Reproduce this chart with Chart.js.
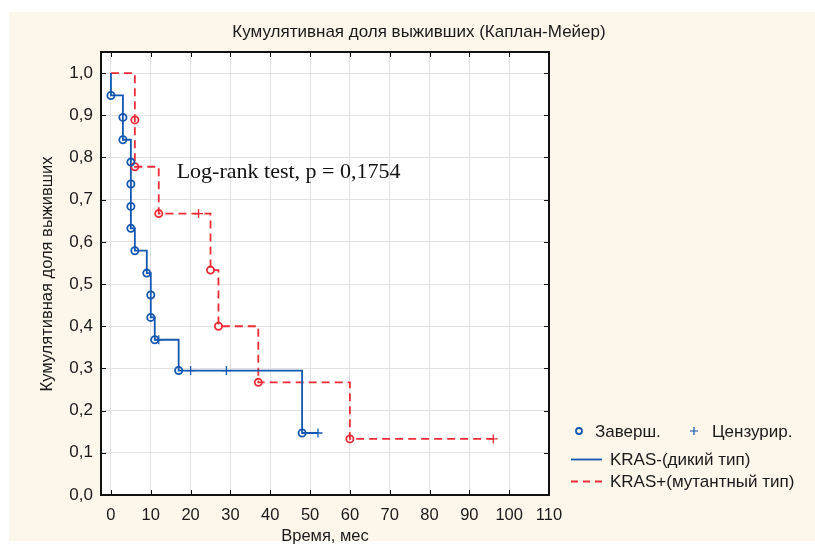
<!DOCTYPE html>
<html>
<head>
<meta charset="utf-8">
<script src="https://cdn.jsdelivr.net/npm/chart.js@4.4.1/dist/chart.umd.min.js"></script>
<style>
html,body{margin:0;padding:0;background:#fff;}
#wrap{position:relative;width:815px;height:545px;overflow:hidden;}
#bg{position:absolute;left:9px;top:12px;width:806px;height:529px;background:#fdf6ea;}
#c{position:absolute;left:0;top:0;}
</style>
</head>
<body>
<div id="wrap"><div id="bg"></div><canvas id="c" width="815" height="545"></canvas></div>
<script>
// ── DATA ──
// KRAS- (wild type): step curve
const blueStepT = [0, 0, 3, 3, 5, 5, 5, 5, 6, 9, 10, 10, 11, 17, 48, 52];
const blueStepS = [1.0, 0.947, 0.895, 0.842, 0.789, 0.737, 0.684, 0.632, 0.579, 0.526, 0.474, 0.421, 0.368, 0.295, 0.147, 0.147];
const blueEventT = [0, 3, 3, 5, 5, 5, 5, 6, 9, 10, 10, 11, 17, 48];
const blueEventS = [0.947, 0.895, 0.842, 0.789, 0.737, 0.684, 0.632, 0.579, 0.526, 0.474, 0.421, 0.368, 0.295, 0.147];
const blueCensT = [12, 20, 29, 52];
const blueCensS = [0.368, 0.295, 0.295, 0.147];

// KRAS+ (mutant): step curve
const redStepT = [0, 6, 6, 12, 25, 27, 37, 60, 96];
const redStepS = [1.0, 0.889, 0.778, 0.667, 0.533, 0.4, 0.267, 0.133, 0.133];
const redEventT = [6, 6, 12, 25, 27, 37, 60];
const redEventS = [0.889, 0.778, 0.667, 0.533, 0.4, 0.267, 0.133];
const redCensT = [22, 96];
const redCensS = [0.667, 0.133];

const xTicks = [0, 10, 20, 30, 40, 50, 60, 70, 80, 90, 100, 110];
const yTicks = [0, 0.1, 0.2, 0.3, 0.4, 0.5, 0.6, 0.7, 0.8, 0.9, 1.0];

const titleText = 'Кумулятивная доля выживших (Каплан-Мейер)';
const xTitle = 'Время, мес';
const yTitle = 'Кумулятивная доля выживших';
const noteText = 'Log-rank test, p = 0,1754';
const legEvent = 'Заверш.', legCens = 'Цензурир.';
const legBlue = 'KRAS-(дикий тип)', legRed = 'KRAS+(мутантный тип)';

const BLUE = '#1457b0', RED = '#ee2b36';
const FONT = '"Liberation Sans", Arial, sans-serif';

const pts = (t, s) => t.map((v, i) => ({x: v, y: s[i]}));

// ── PLUGINS ──
const plotBg = {
  id: 'plotBg',
  beforeDraw(chart){
    const {ctx, chartArea:a} = chart;
    ctx.save();
    ctx.fillStyle = '#fff';
    ctx.fillRect(a.left, a.top, a.right - a.left, a.bottom - a.top);
    ctx.restore();
  }
};

const frame = {
  id: 'frame',
  afterDatasetsDraw(chart){
    const {ctx, chartArea:a, scales} = chart;
    ctx.save();
    ctx.strokeStyle = '#111';
    ctx.lineWidth = 1;
    ctx.beginPath();
    xTicks.forEach(v => {
      const px = Math.round(scales.x.getPixelForValue(v)) + 0.5;
      ctx.moveTo(px, a.bottom); ctx.lineTo(px, a.bottom - 5);
      ctx.moveTo(px, a.top); ctx.lineTo(px, a.top + 5);
    });
    yTicks.forEach(v => {
      const py = Math.round(scales.y.getPixelForValue(v)) + 0.5;
      ctx.moveTo(a.left, py); ctx.lineTo(a.left + 5, py);
      ctx.moveTo(a.right, py); ctx.lineTo(a.right - 5, py);
    });
    ctx.stroke();
    ctx.lineWidth = 2;
    ctx.strokeRect(a.left, a.top, a.right - a.left, a.bottom - a.top);

    // log-rank note
    ctx.fillStyle = '#111';
    ctx.font = '22px "Liberation Serif", "Times New Roman", serif';
    ctx.textBaseline = 'middle';
    ctx.textAlign = 'left';
    ctx.fillText(noteText, scales.x.getPixelForValue(16.5), scales.y.getPixelForValue(0.765));
    ctx.restore();
  },
  afterDraw(chart){
    const {ctx} = chart;
    ctx.save();
    ctx.fillStyle = '#1a1a1a';
    ctx.textBaseline = 'middle';
    // title
    ctx.font = '17px ' + FONT;
    ctx.textAlign = 'center';
    ctx.fillText(titleText, 419, 32);
    // axis titles
    ctx.font = '16.5px ' + FONT;
    ctx.fillText(xTitle, 325, 536);
    ctx.save();
    ctx.translate(47, 274);
    ctx.rotate(-Math.PI / 2);
    ctx.fillText(yTitle, 0, 0);
    ctx.restore();

    // legend
    ctx.font = '17px ' + FONT;
    ctx.textAlign = 'left';
    ctx.strokeStyle = BLUE;
    ctx.lineWidth = 1.8;
    ctx.beginPath(); ctx.arc(579, 431, 3, 0, Math.PI * 2); ctx.stroke();
    ctx.lineWidth = 1.2;
    ctx.beginPath();
    ctx.moveTo(690, 431); ctx.lineTo(698, 431);
    ctx.moveTo(694, 427); ctx.lineTo(694, 435);
    ctx.stroke();
    ctx.fillText(legEvent, 595, 432);
    ctx.fillText(legCens, 712, 432);

    ctx.lineWidth = 1.8;
    ctx.beginPath(); ctx.moveTo(571, 459.5); ctx.lineTo(602, 459.5); ctx.stroke();
    ctx.fillText(legBlue, 610, 460);

    ctx.strokeStyle = RED;
    ctx.setLineDash([7, 5]);
    ctx.beginPath(); ctx.moveTo(571, 481.5); ctx.lineTo(602, 481.5); ctx.stroke();
    ctx.setLineDash([]);
    ctx.fillText(legRed, 610, 482);
    ctx.restore();
  }
};

// ── CHART ──
new Chart(document.getElementById('c'), {
  type: 'scatter',
  data: {
    datasets: [
      {data: pts(blueStepT, blueStepS), showLine: true, stepped: 'before', borderColor: BLUE, borderWidth: 1.8, pointRadius: 0, order: 1},
      {data: pts(blueEventT, blueEventS), pointStyle: 'circle', pointRadius: 3.6, borderColor: BLUE, backgroundColor: 'rgba(0,0,0,0)', borderWidth: 1.8, order: 0},
      {data: pts(blueCensT, blueCensS), pointStyle: 'cross', pointRadius: 4.5, borderColor: BLUE, borderWidth: 1.3, order: 0},
      {data: pts(redStepT, redStepS), showLine: true, stepped: 'before', borderColor: RED, borderWidth: 1.8, borderDash: [8, 5], pointRadius: 0, order: 2},
      {data: pts(redEventT, redEventS), pointStyle: 'circle', pointRadius: 3.6, borderColor: RED, backgroundColor: 'rgba(0,0,0,0)', borderWidth: 1.8, order: 0},
      {data: pts(redCensT, redCensS), pointStyle: 'cross', pointRadius: 4.5, borderColor: RED, borderWidth: 1.3, order: 0}
    ]
  },
  options: {
    responsive: false,
    animation: false,
    events: [],
    layout: {padding: {top: 52, right: 266, left: 0, bottom: 0}},
    plugins: {legend: {display: false}, tooltip: {enabled: false}, title: {display: false}},
    scales: {
      x: {
        type: 'linear', min: -2.5, max: 110,
        afterFit(s){ s.height = 50; },
        afterBuildTicks(s){ s.ticks = xTicks.map(v => ({value: v})); },
        grid: {color: '#e2e2e2', lineWidth: 1, drawTicks: false},
        border: {display: false},
        ticks: {color: '#1a1a1a', font: {family: FONT, size: 16.5}, padding: 11, callback: v => String(v)}
      },
      y: {
        type: 'linear', min: 0, max: 1.05,
        afterFit(s){ s.width = 101; },
        afterBuildTicks(s){ s.ticks = yTicks.map(v => ({value: v})); },
        grid: {color: '#e2e2e2', lineWidth: 1, drawTicks: false},
        border: {display: false},
        ticks: {color: '#1a1a1a', font: {family: FONT, size: 17}, padding: 8, callback: v => v.toFixed(1).replace('.', ',')}
      }
    }
  },
  plugins: [plotBg, frame]
});
</script>
</body>
</html>
